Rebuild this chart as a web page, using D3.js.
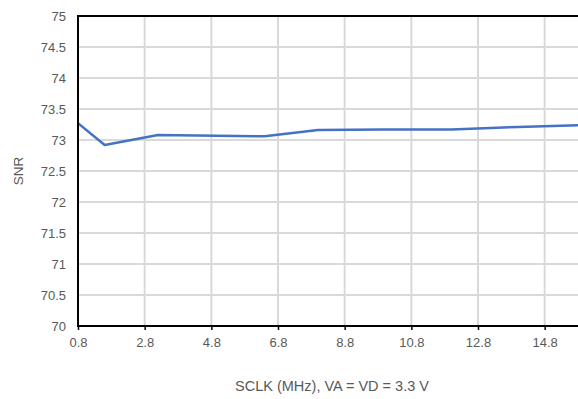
<!DOCTYPE html>
<html>
<head>
<meta charset="utf-8">
<script src="https://cdn.jsdelivr.net/npm/d3@7"></script>
<style>
  html, body { margin: 0; padding: 0; background: #fff; }
  svg { display: block; font-family: "Liberation Sans", Arial, sans-serif; }
</style>
</head>
<body>
<svg id="chart" width="578" height="399"></svg>
<script>
// SNR versus serial clock frequency
const sclkMHz = [0.8, 1.6, 3.2, 6.4, 8.0, 10.0, 12.0, 14.0, 16.0];
const snr     = [73.27, 72.92, 73.08, 73.06, 73.16, 73.17, 73.17, 73.21, 73.24];
const xTicks  = [0.8, 2.8, 4.8, 6.8, 8.8, 10.8, 12.8, 14.8];
const yTicks  = [70, 70.5, 71, 71.5, 72, 72.5, 73, 73.5, 74, 74.5, 75];

const margin = { left: 78, top: 16, right: 0, bottom: 73 };
const W = 578, H = 399;
const svg = d3.select("#chart");

const x = d3.scaleLinear().domain([0.8, 15.8]).range([margin.left, W - margin.right]);
const y = d3.scaleLinear().domain([70, 75]).range([H - margin.bottom, margin.top]);

// gridlines
svg.append("g").selectAll("line").data(yTicks.slice(1)).join("line")
  .attr("x1", margin.left).attr("x2", W)
  .attr("y1", d => y(d)).attr("y2", d => y(d))
  .attr("stroke", "#d9d9d9").attr("stroke-width", 2);
svg.append("g").selectAll("line").data(xTicks.slice(1)).join("line")
  .attr("x1", d => x(d)).attr("x2", d => x(d))
  .attr("y1", y(75)).attr("y2", y(70))
  .attr("stroke", "#d9d9d9").attr("stroke-width", 2);

// data line
svg.append("clipPath").attr("id", "plot-clip").append("rect")
  .attr("x", margin.left).attr("y", margin.top)
  .attr("width", W - margin.left).attr("height", y(70) - margin.top);
const line = d3.line().x((d, i) => x(sclkMHz[i])).y(d => y(d));
svg.append("path").datum(snr)
  .attr("clip-path", "url(#plot-clip)")
  .attr("d", line)
  .attr("fill", "none").attr("stroke", "#4472c4").attr("stroke-width", 2.5)
  .attr("stroke-linejoin", "round");

// frame: top, left, bottom
svg.append("line").attr("x1", margin.left).attr("x2", W)
  .attr("y1", y(75)).attr("y2", y(75)).attr("stroke", "#000").attr("stroke-width", 2);

const xAxis = svg.append("g").attr("transform", `translate(0,${y(70)})`)
  .call(d3.axisBottom(x).tickValues(xTicks).tickFormat(d3.format(".1f")).tickSize(4).tickSizeOuter(0));
const yAxis = svg.append("g").attr("transform", `translate(${margin.left},0)`)
  .call(d3.axisLeft(y).tickValues(yTicks).tickFormat(d => String(d)).tickSize(0).tickPadding(12));

[xAxis, yAxis].forEach(g => {
  g.select(".domain").attr("stroke", "#000").attr("stroke-width", 2);
  g.selectAll(".tick line").attr("stroke", "#000").attr("stroke-width", 1.5);
  g.selectAll("text").attr("fill", "#595959").attr("font-size", 13)
    .attr("font-family", "Liberation Sans, Arial, sans-serif");
});
xAxis.select(".domain").attr("d", `M${margin.left},0H${W}`);
xAxis.selectAll("text").attr("dy", "1.1em");
yAxis.select(".domain").attr("d", `M0,${y(75) - 1}V${y(70) + 1}`);

// axis titles
svg.append("text")
  .attr("x", (margin.left + W) / 2 + 4).attr("y", 391)
  .attr("text-anchor", "middle").attr("fill", "#595959").attr("font-size", 14.5)
  .text("SCLK (MHz), VA = VD = 3.3 V");
svg.append("text")
  .attr("transform", `translate(23,${(y(70) + y(75)) / 2}) rotate(-90)`)
  .attr("text-anchor", "middle").attr("fill", "#595959").attr("font-size", 13.5)
  .text("SNR");
</script>
</body>
</html>
